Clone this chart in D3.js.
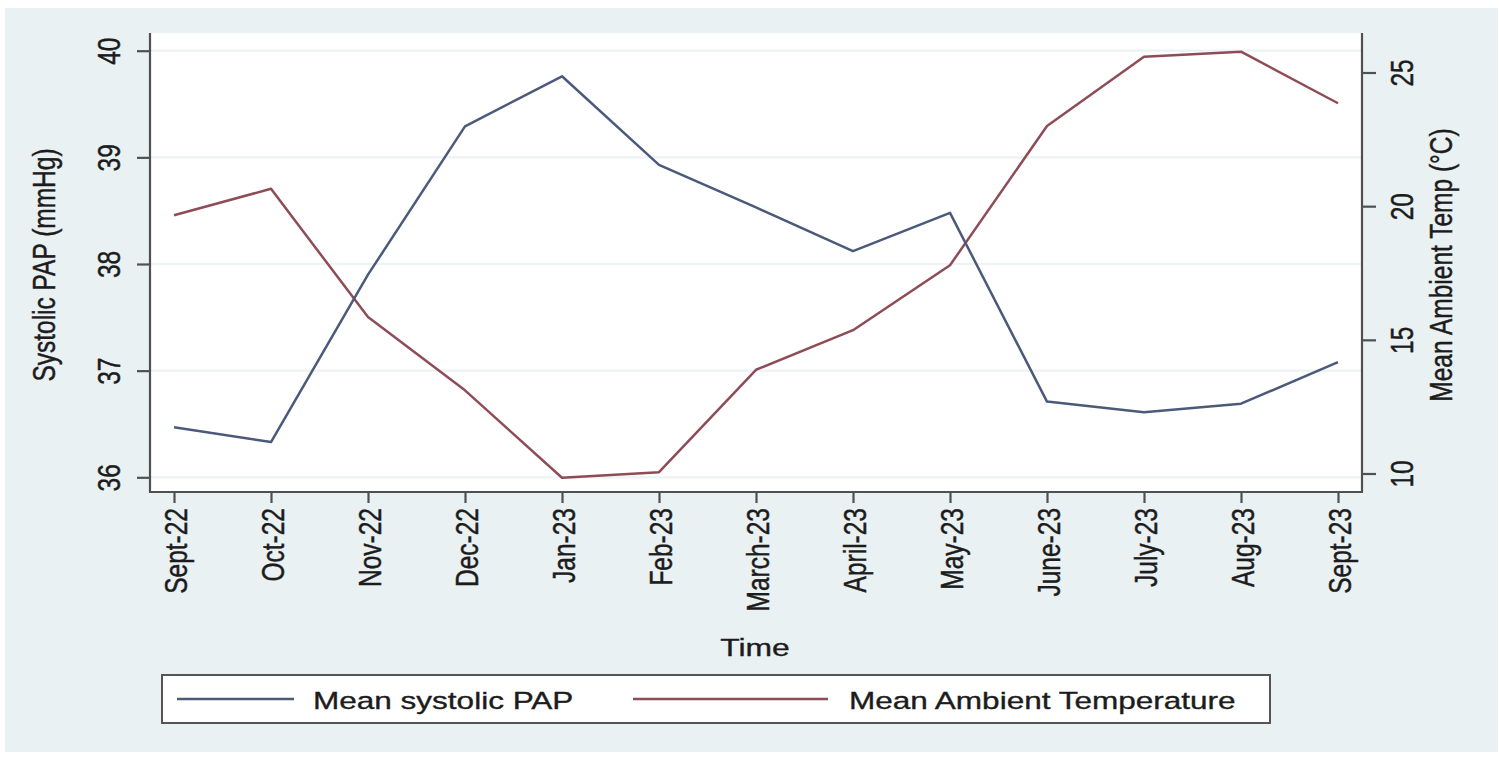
<!DOCTYPE html>
<html>
<head>
<meta charset="utf-8">
<script src="https://cdn.jsdelivr.net/npm/d3@7"></script>
<style>
  html, body { margin: 0; padding: 0; background: #ffffff; }
  svg { display: block; }
  text { font-family: "Liberation Sans", Arial, Helvetica, sans-serif; fill: #1c1c1c; stroke: #1c1c1c; stroke-width: 0.35px; }
</style>
</head>
<body>
<svg id="chart" width="1499" height="758"></svg>
<script>
// ---------- data ----------
const months = ["Sept-22","Oct-22","Nov-22","Dec-22","Jan-23","Feb-23","March-23","April-23","May-23","June-23","July-23","Aug-23","Sept-23"];
const papValues = [36.47, 36.33, 37.90, 39.29, 39.76, 38.93, 38.53, 38.12, 38.48, 36.71, 36.61, 36.69, 37.08];
const tempValues = [19.66, 20.65, 15.85, 13.11, 9.84, 10.05, 13.88, 15.36, 17.79, 23.0, 25.59, 25.78, 23.85];
const leftTicks = [36, 37, 38, 39, 40];
const rightTicks = [10, 15, 20, 25];
const seriesNames = ["Mean systolic PAP", "Mean Ambient Temperature"];
const leftTitle = "Systolic PAP (mmHg)";
const rightTitle = "Mean Ambient Temp (°C)";
const xTitle = "Time";

// ---------- layout ----------
const W = 1499, H = 758;
const plot = { left: 150, right: 1362, top: 33, bottom: 492 };
const SX = 1.3;          // horizontal glyph stretch of the original image
const FS = 24.5;         // font size
const colPAP = "#4b5a7b", colTemp = "#8e4c56";
const axisCol = "#505050";

const svg = d3.select("#chart");

// background
svg.append("rect").attr("x", 5).attr("y", 8).attr("width", W - 6).attr("height", H - 14).attr("fill", "#eaf1f3");
svg.append("rect").attr("x", plot.left).attr("y", plot.top)
  .attr("width", plot.right - plot.left).attr("height", plot.bottom - plot.top).attr("fill", "#ffffff");

// scales
const x = d3.scalePoint().domain(months).range([plot.left + 24, plot.right - 24]);
const yL = d3.scaleLinear().domain([36, 40]).range([477.3, 50.7]);
const yR = d3.scaleLinear().domain([10, 25]).range([473.5, 72.5]);

// gridlines
svg.append("g").selectAll("line").data(leftTicks).join("line")
  .attr("x1", plot.left + 1).attr("x2", plot.right - 1)
  .attr("y1", d => yL(d)).attr("y2", d => yL(d))
  .attr("stroke", "#edf2f4").attr("stroke-width", 2.2);

// lines
const linePAP = d3.line().x((d, i) => x(months[i])).y(d => yL(d));
const lineTemp = d3.line().x((d, i) => x(months[i])).y(d => yR(d));
svg.append("path").datum(tempValues).attr("d", lineTemp)
  .attr("fill", "none").attr("stroke", colTemp).attr("stroke-width", 2.5).attr("stroke-linejoin", "round");
svg.append("path").datum(papValues).attr("d", linePAP)
  .attr("fill", "none").attr("stroke", colPAP).attr("stroke-width", 2.5).attr("stroke-linejoin", "round");

// axes
function styleAxis(g) {
  g.select(".domain").attr("stroke", axisCol).attr("stroke-width", 2.2);
  g.selectAll(".tick line").attr("stroke", axisCol).attr("stroke-width", 2.2);
  g.selectAll(".tick text").style("font-size", FS + "px").attr("fill", "#1c1c1c");
}

// left axis
const gL = svg.append("g").attr("transform", `translate(${plot.left},0)`)
  .call(d3.axisLeft(yL).tickValues(leftTicks).tickFormat(d3.format("d")).tickSizeInner(13).tickSizeOuter(0));
gL.select(".domain").attr("d", `M0,${plot.top}V${plot.bottom}`);
styleAxis(gL);
gL.selectAll(".tick text").attr("x", null).attr("dy", null).attr("text-anchor", "middle")
  .attr("transform", `translate(-30,0) scale(${SX},1) rotate(-90)`);

// right axis
const gR = svg.append("g").attr("transform", `translate(${plot.right},0)`)
  .call(d3.axisRight(yR).tickValues(rightTicks).tickFormat(d3.format("d")).tickSizeInner(14).tickSizeOuter(0));
gR.select(".domain").attr("d", `M0,${plot.top}V${plot.bottom}`);
styleAxis(gR);
gR.selectAll(".tick text").attr("x", null).attr("dy", null).attr("text-anchor", "middle")
  .attr("transform", `translate(51,0) scale(${SX},1) rotate(-90)`);

// bottom axis
const gB = svg.append("g").attr("transform", `translate(0,${plot.bottom})`)
  .call(d3.axisBottom(x).tickSizeInner(11).tickSizeOuter(0));
gB.select(".domain").attr("d", `M${plot.left - 1},0H${plot.right + 1}`);
styleAxis(gB);
gB.selectAll(".tick text").attr("y", null).attr("dy", null).attr("text-anchor", "end")
  .attr("transform", `translate(12,16) scale(${SX},1) rotate(-90)`);

// axis titles
svg.append("text").attr("text-anchor", "middle").style("font-size", FS + "px")
  .attr("transform", `translate(55,265) scale(${SX},1) rotate(-90)`).text(leftTitle);
svg.append("text").attr("text-anchor", "middle").style("font-size", FS + "px")
  .attr("transform", `translate(1452,265) scale(${SX},1) rotate(-90)`).text(rightTitle);
svg.append("text").attr("text-anchor", "middle").style("font-size", FS + "px")
  .attr("transform", `translate(755,656) scale(${SX},1)`).text(xTitle);

// legend
const leg = svg.append("g");
leg.append("rect").attr("x", 162).attr("y", 675).attr("width", 1108).attr("height", 48)
  .attr("fill", "#ffffff").attr("stroke", "#555").attr("stroke-width", 2);
const legItems = [
  { name: seriesNames[0], color: colPAP, x1: 177, x2: 294, tx: 313 },
  { name: seriesNames[1], color: colTemp, x1: 633, x2: 828, tx: 849 }
];
legItems.forEach(it => {
  leg.append("line").attr("x1", it.x1).attr("x2", it.x2).attr("y1", 699).attr("y2", 699)
    .attr("stroke", it.color).attr("stroke-width", 2.6);
  leg.append("text").style("font-size", FS + "px")
    .attr("transform", `translate(${it.tx},709) scale(${SX * 0.99},1)`).text(it.name);
});
</script>
</body>
</html>
